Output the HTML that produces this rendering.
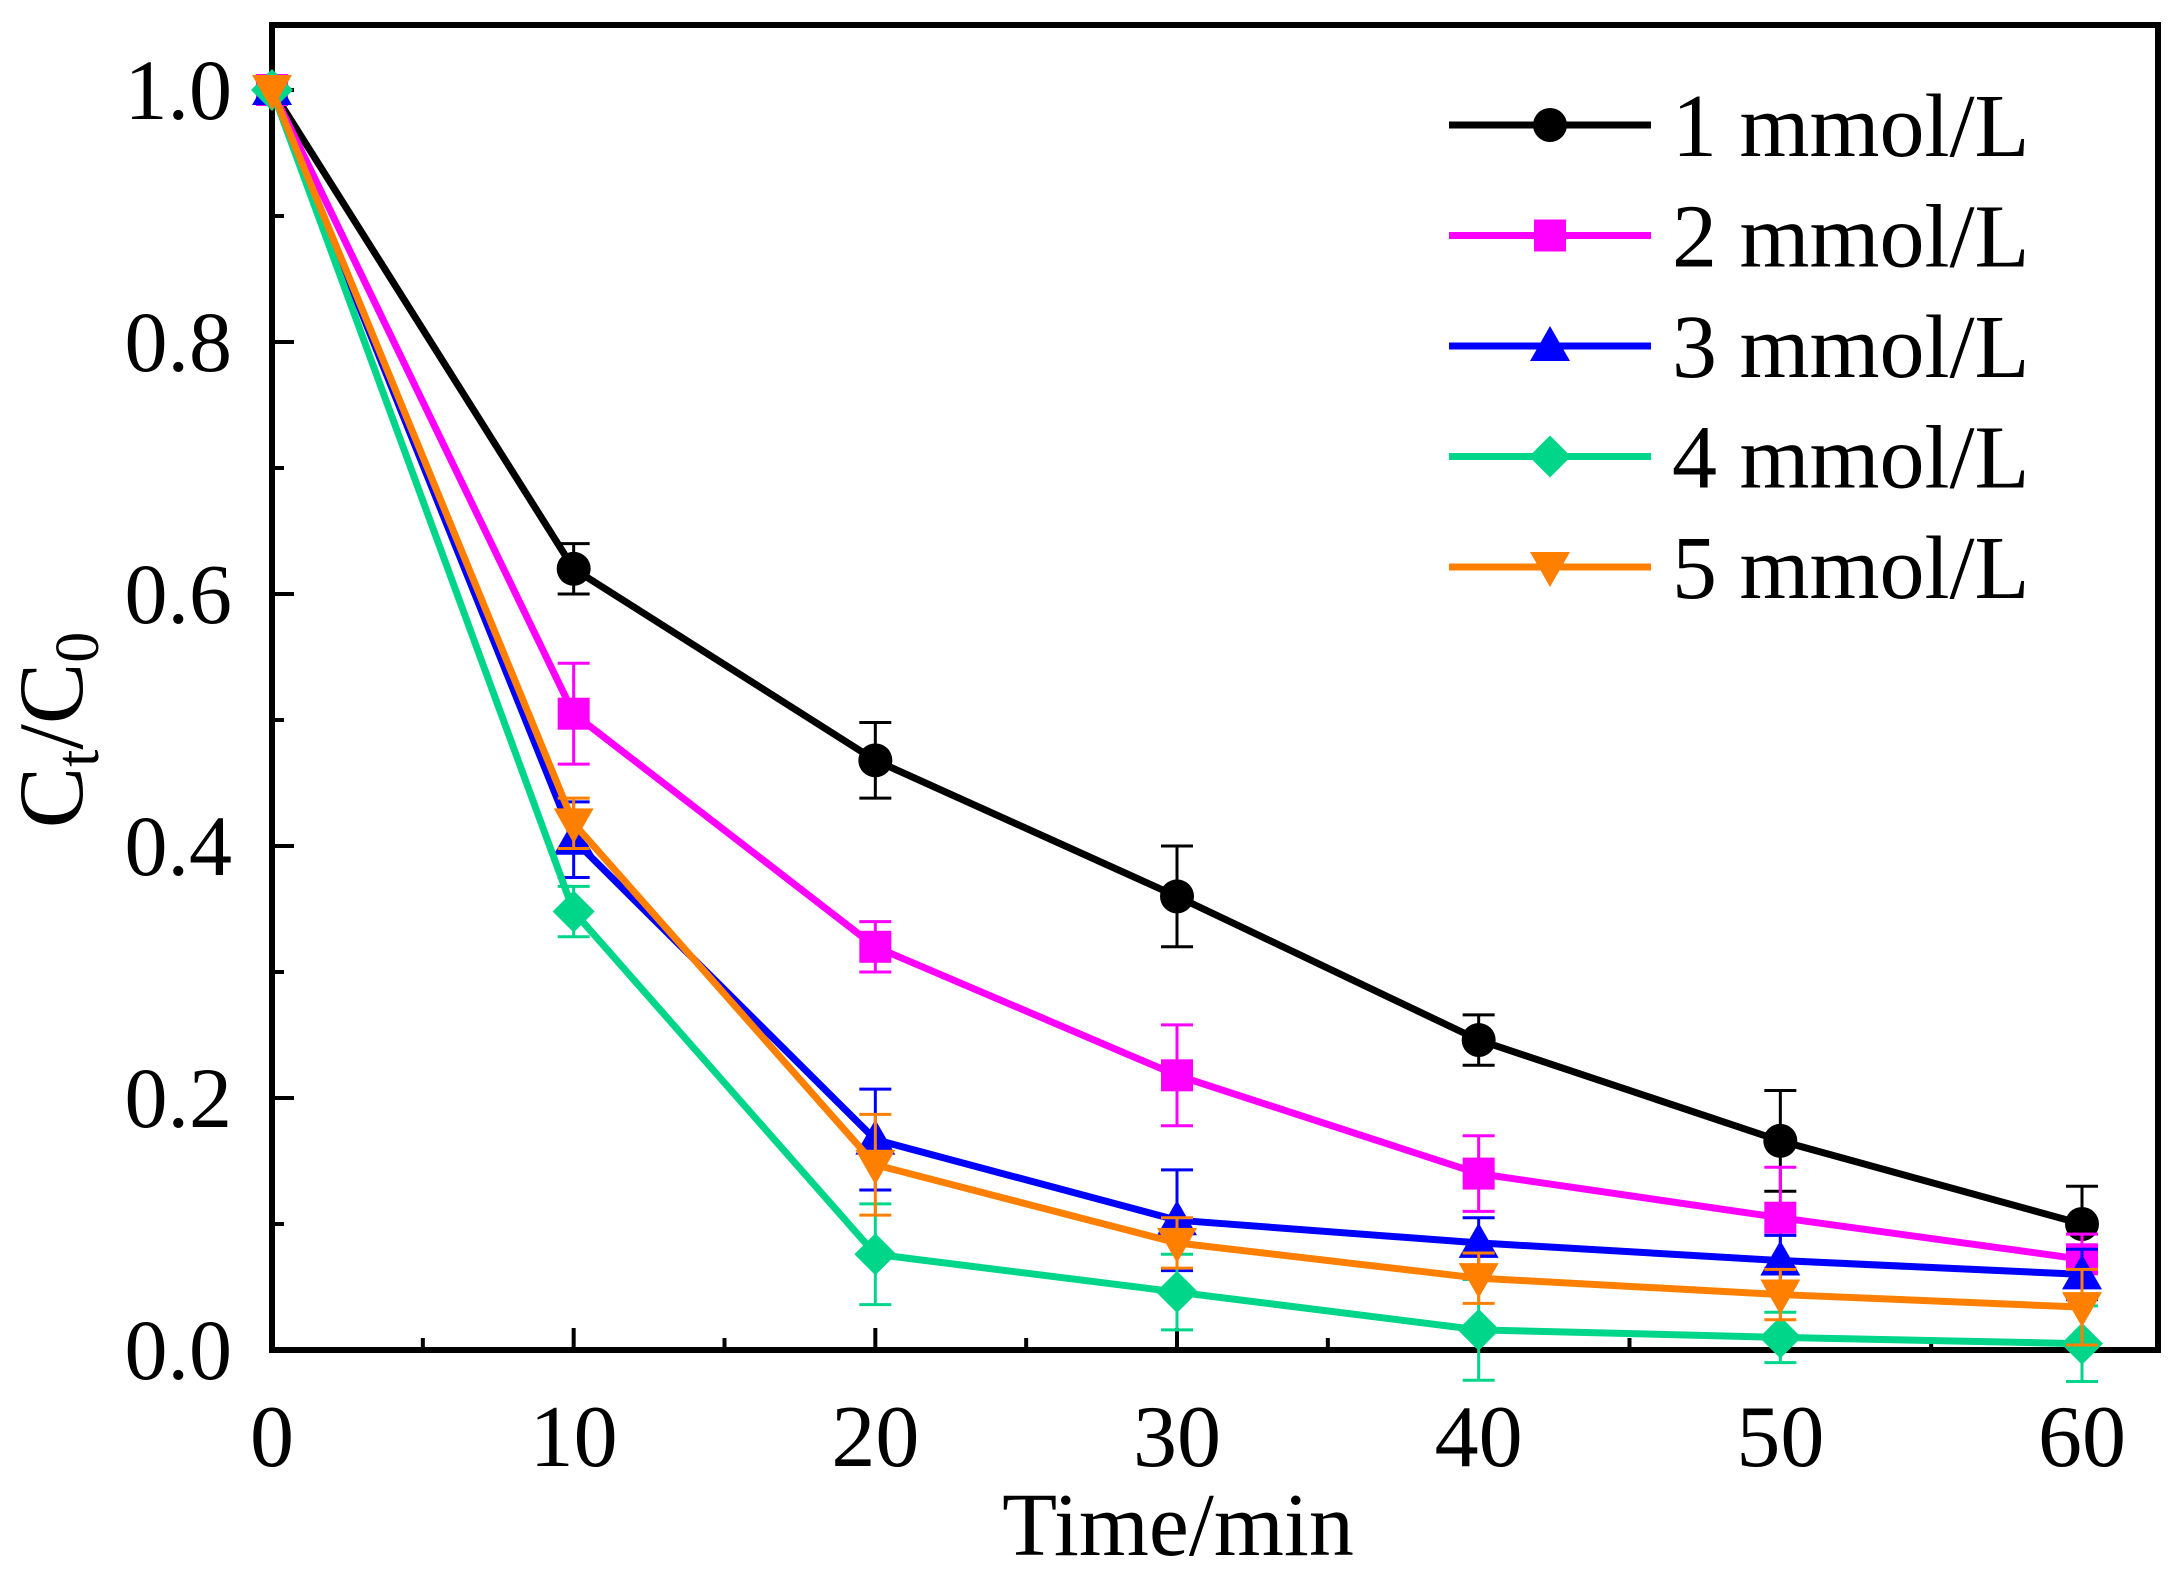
<!DOCTYPE html>
<html><head><meta charset="utf-8"><style>
html,body{margin:0;padding:0;background:#fff;}
svg{display:block;font-family:"Liberation Serif",serif;}
</style></head><body>
<svg id="chart" width="2179" height="1577" viewBox="0 0 2179 1577" xmlns="http://www.w3.org/2000/svg"></svg>
<script>
const times = [0, 10, 20, 30, 40, 50, 60];
const seriesNames = ["1 mmol/L", "2 mmol/L", "3 mmol/L", "4 mmol/L", "5 mmol/L"];
const s1 = [1.0, 0.62, 0.468, 0.36, 0.246, 0.166, 0.10];
const s2 = [1.0, 0.505, 0.32, 0.218, 0.14, 0.105, 0.072];
const s3 = [1.0, 0.405, 0.167, 0.103, 0.085, 0.071, 0.06];
const s4 = [1.0, 0.348, 0.076, 0.046, 0.016, 0.01, 0.005];
const s5 = [1.0, 0.418, 0.147, 0.085, 0.057, 0.044, 0.034];
const e1 = [0, 0.02, 0.03, 0.04, 0.02, 0.04, 0.03];
const e2 = [0, 0.04, 0.02, 0.04, 0.03, 0.04, 0.02];
const e3 = [0, 0.03, 0.04, 0.04, 0.02, 0.02, 0.02];
const e4 = [0, 0.02, 0.04, 0.03, 0.04, 0.02, 0.03];
const e5 = [0, 0.02, 0.04, 0.02, 0.02, 0.02, 0.03];
const xTicks = [0, 10, 20, 30, 40, 50, 60];
const yTicks = [0.0, 0.2, 0.4, 0.6, 0.8, 1.0];
const yTickLabels = ["0.0", "0.2", "0.4", "0.6", "0.8", "1.0"];

const NS = "http://www.w3.org/2000/svg";
const svg = document.getElementById('chart');
const L = 272, R = 2158, T = 25, B = 1350;
const X = v => 272 + (v - 0) / 60 * (2082 - 272);
const Y = v => 1350 - v * (1350 - 90);
function mk(tag, attrs, parent) {
  const e = document.createElementNS(NS, tag);
  for (const k in attrs) e.setAttribute(k, attrs[k]);
  (parent || svg).appendChild(e);
  return e;
}
const colors = ["#000000", "#ff00ff", "#0000ff", "#00d68a", "#ff8000"];
const shapes = ["circle", "square", "up", "diamond", "down"];
const data = [s1, s2, s3, s4, s5];
const errs = [e1, e2, e3, e4, e5];

function marker(shape, cx, cy, color, parent) {
  let el;
  if (shape === "circle") el = mk('circle', {cx: cx, cy: cy, r: 17, fill: color}, parent);
  else if (shape === "square") el = mk('rect', {x: cx - 16, y: cy - 16, width: 32, height: 32, fill: color}, parent);
  else if (shape === "up") el = mk('polygon', {points: `${cx},${cy-20} ${cx+20},${cy+15} ${cx-20},${cy+15}`, fill: color}, parent);
  else if (shape === "down") el = mk('polygon', {points: `${cx},${cy+20} ${cx+20},${cy-15} ${cx-20},${cy-15}`, fill: color}, parent);
  else el = mk('polygon', {points: `${cx},${cy-21} ${cx+21},${cy} ${cx},${cy+21} ${cx-21},${cy}`, fill: color}, parent);
  return el;
}

const frame = mk('rect', {x: L, y: T, width: R - L, height: B - T, fill: 'none', stroke: '#000', 'stroke-width': 6});



const xAxis = mk('g', {});


for (let v = 0; v <= 60; v += 5) {
  const major = v % 10 === 0;
  mk('line', {x1: X(v), x2: X(v), y1: B, y2: B - (major ? 22 : 12), stroke: '#000', 'stroke-width': 4}, xAxis);
}
xTicks.forEach(v => {
  const t = mk('text', {x: X(v), y: 1466, 'text-anchor': 'middle', 'font-size': 88}, xAxis);
  t.textContent = v;
  
  
});
const yAxis = mk('g', {});


for (let i = 0; i <= 10; i++) {
  const v = i / 10;
  const major = i % 2 === 0;
  mk('line', {x1: L, x2: L + (major ? 22 : 12), y1: Y(v), y2: Y(v), stroke: '#000', 'stroke-width': 4}, yAxis);
}
yTicks.forEach((v, i) => {
  const t = mk('text', {x: 232, y: Y(v) + 29, 'text-anchor': 'end', 'font-size': 86}, yAxis);
  t.textContent = yTickLabels[i];
  
  
});
const xt = mk('text', {x: 1178, y: 1555, 'text-anchor': 'middle', 'font-size': 90});
xt.textContent = 'Time/min';


const yt = mk('text', {x: 0, y: 0, 'text-anchor': 'middle', 'font-size': 92, transform: 'translate(82,730) rotate(-90)'});
yt.innerHTML = 'C<tspan font-size="62" dy="16">t</tspan><tspan dy="-16">/C</tspan><tspan font-size="62" dy="16">0</tspan>';



data.forEach((s, k) => {
  const g = mk('g', {});
  
  
  const pts = s.map((v, i) => X(times[i]) + ',' + Y(v)).join(' ');
  mk('polyline', {points: pts, fill: 'none', stroke: colors[k], 'stroke-width': 7}, g);
  s.forEach((v, i) => {
    const e = errs[k][i];
    if (e > 0) {
      const x = X(times[i]);
      const eb = mk('g', {stroke: colors[k], 'stroke-width': 3}, g);
      
      
      mk('line', {x1: x, x2: x, y1: Y(v - e), y2: Y(v + e)}, eb);
      mk('line', {x1: x - 16, x2: x + 16, y1: Y(v + e), y2: Y(v + e)}, eb);
      mk('line', {x1: x - 16, x2: x + 16, y1: Y(v - e), y2: Y(v - e)}, eb);
    }
  });
  s.forEach((v, i) => {
    const m = marker(shapes[k], X(times[i]), Y(v), colors[k], g);
    
    
  });
});

const lg = mk('g', {});


seriesNames.forEach((n, k) => {
  const y = 125 + k * 110.5;
  const e = mk('g', {}, lg);
  
  
  mk('line', {x1: 1449, x2: 1651, y1: y, y2: y, stroke: colors[k], 'stroke-width': 7}, e);
  marker(shapes[k], 1550, y, colors[k], e);
  const t = mk('text', {x: 1672, y: y + 31, 'font-size': 90}, e);
  t.textContent = n;
});
</script>
</body></html>
